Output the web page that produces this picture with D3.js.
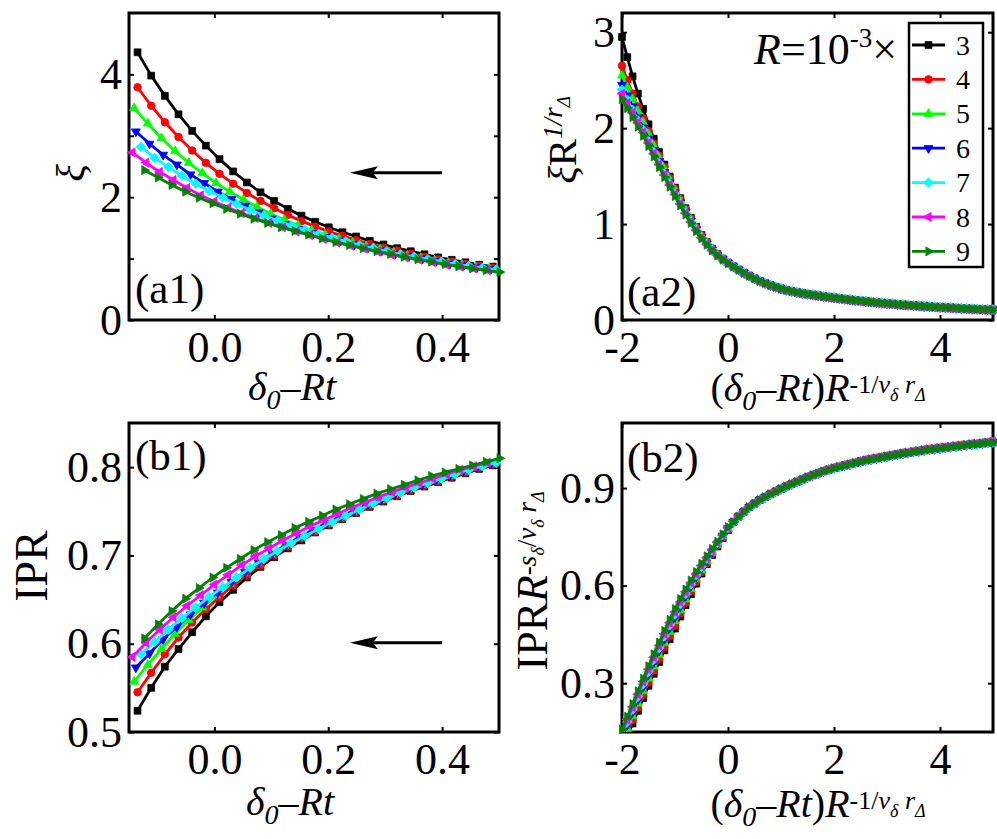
<!DOCTYPE html>
<html><head><meta charset="utf-8">
<script src="https://cdn.jsdelivr.net/npm/d3@7"></script>
<style>
body{margin:0;background:#fff}
svg{display:block}
text{font-family:"Liberation Serif","Times New Roman",Times,serif;fill:#000;white-space:pre}
</style>
</head><body>
<svg id="chart" width="997" height="839"></svg>
<script>
// ---------------- DATA ----------------
const seriesLabels = ["3","4","5","6","7","8","9"];
const seriesColors = ["#000000","#ff0000","#00ff00","#0000ff","#00ffff","#ff00ff","#008000"];
const seriesMarkers = ["square","circle","triUp","triDown","diamond","triLeft","triRight"];

// (a1)/(b1): x = delta0 - Rt for each R
const x1_3 = [-0.135,-0.111,-0.087,-0.063,-0.039,-0.015,0.009,0.033,0.057,0.081,0.105,0.129,0.153,0.177,0.201,0.225,0.249,0.273,0.297,0.321,0.345,0.369,0.393,0.417,0.441,0.465,0.489];
const x1_4 = [-0.135,-0.111,-0.087,-0.063,-0.039,-0.015,0.009,0.033,0.057,0.081,0.105,0.129,0.153,0.177,0.201,0.225,0.249,0.273,0.297,0.321,0.345,0.369,0.393,0.417,0.441,0.465,0.489];
const x1_5 = [-0.141,-0.117,-0.093,-0.069,-0.045,-0.021,0.003,0.027,0.051,0.075,0.099,0.123,0.147,0.171,0.195,0.219,0.243,0.267,0.291,0.315,0.339,0.363,0.387,0.411,0.435,0.459,0.483];
const x1_6 = [-0.138,-0.114,-0.090,-0.066,-0.042,-0.018,0.006,0.030,0.054,0.078,0.102,0.126,0.150,0.174,0.198,0.222,0.246,0.270,0.294,0.318,0.342,0.366,0.390,0.414,0.438,0.462,0.486];
const x1_7 = [-0.129,-0.105,-0.081,-0.057,-0.033,-0.009,0.015,0.039,0.063,0.087,0.111,0.135,0.159,0.183,0.207,0.231,0.255,0.279,0.303,0.327,0.351,0.375,0.399,0.423,0.447,0.471,0.495];
const x1_8 = [-0.144,-0.120,-0.096,-0.072,-0.048,-0.024,0.000,0.024,0.048,0.072,0.096,0.120,0.144,0.168,0.192,0.216,0.240,0.264,0.288,0.312,0.336,0.360,0.384,0.408,0.432,0.456,0.480];
const x1_9 = [-0.123,-0.099,-0.075,-0.051,-0.027,-0.003,0.021,0.045,0.069,0.093,0.117,0.141,0.165,0.189,0.213,0.237,0.261,0.285,0.309,0.333,0.357,0.381,0.405,0.429,0.453,0.477,0.501];

// (a1) xi
const xi_3 = [4.36,3.98,3.65,3.35,3.08,2.84,2.62,2.42,2.24,2.08,1.94,1.81,1.70,1.60,1.51,1.43,1.36,1.29,1.23,1.17,1.12,1.07,1.02,0.98,0.94,0.90,0.87];
const xi_4 = [3.79,3.49,3.22,2.98,2.76,2.56,2.38,2.22,2.07,1.94,1.82,1.71,1.61,1.52,1.44,1.37,1.30,1.24,1.18,1.13,1.08,1.03,0.99,0.95,0.91,0.88,0.85];
const xi_5 = [3.45,3.20,2.96,2.75,2.56,2.39,2.23,2.09,1.96,1.84,1.73,1.63,1.54,1.46,1.39,1.32,1.26,1.20,1.15,1.10,1.05,1.01,0.97,0.93,0.90,0.87,0.84];
const xi_6 = [3.07,2.87,2.69,2.53,2.37,2.23,2.09,1.97,1.86,1.75,1.65,1.56,1.48,1.41,1.35,1.29,1.23,1.18,1.13,1.08,1.04,1.00,0.96,0.92,0.89,0.86,0.83];
const xi_7 = [2.82,2.64,2.49,2.35,2.22,2.10,1.99,1.89,1.79,1.70,1.62,1.54,1.47,1.40,1.34,1.28,1.22,1.17,1.12,1.07,1.03,0.99,0.95,0.91,0.88,0.85,0.82];
const xi_8 = [2.73,2.56,2.41,2.28,2.15,2.03,1.93,1.83,1.74,1.66,1.58,1.51,1.44,1.38,1.32,1.26,1.21,1.16,1.11,1.06,1.02,0.98,0.94,0.90,0.87,0.84,0.81];
const xi_9 = [2.44,2.32,2.20,2.09,1.99,1.90,1.81,1.73,1.65,1.58,1.51,1.45,1.39,1.33,1.27,1.22,1.17,1.12,1.075,1.03,0.99,0.95,0.91,0.875,0.84,0.81,0.78];

// (b1) IPR
const ipr_3 = [0.524,0.550,0.574,0.594,0.613,0.631,0.647,0.661,0.675,0.687,0.698,0.708,0.717,0.726,0.734,0.741,0.748,0.755,0.761,0.767,0.773,0.778,0.783,0.788,0.793,0.798,0.802];
const ipr_4 = [0.545,0.567,0.588,0.607,0.624,0.639,0.653,0.666,0.678,0.689,0.700,0.710,0.719,0.727,0.735,0.742,0.749,0.756,0.762,0.768,0.774,0.779,0.784,0.789,0.794,0.799,0.803];
const ipr_5 = [0.557,0.576,0.594,0.611,0.627,0.641,0.655,0.668,0.680,0.691,0.701,0.711,0.720,0.728,0.736,0.743,0.750,0.757,0.763,0.769,0.775,0.780,0.785,0.790,0.795,0.800,0.804];
const ipr_6 = [0.573,0.589,0.605,0.619,0.633,0.646,0.658,0.670,0.681,0.692,0.702,0.712,0.721,0.729,0.737,0.744,0.751,0.758,0.764,0.770,0.776,0.781,0.786,0.791,0.796,0.800,0.804];
const ipr_7 = [0.588,0.602,0.616,0.629,0.641,0.653,0.664,0.675,0.686,0.696,0.705,0.714,0.722,0.730,0.738,0.745,0.752,0.759,0.765,0.771,0.777,0.782,0.787,0.792,0.797,0.801,0.805];
const ipr_8 = [0.585,0.601,0.616,0.630,0.643,0.655,0.667,0.678,0.689,0.699,0.708,0.717,0.725,0.733,0.740,0.747,0.754,0.760,0.766,0.772,0.777,0.782,0.787,0.792,0.797,0.801,0.805];
const ipr_9 = [0.606,0.622,0.637,0.651,0.663,0.675,0.686,0.696,0.706,0.715,0.723,0.731,0.738,0.745,0.752,0.758,0.764,0.770,0.775,0.780,0.785,0.790,0.794,0.798,0.802,0.806,0.810];

// (a2)/(b2): scaled x, shared by all R
const x2 = [-2.0,-1.9,-1.8,-1.7,-1.6,-1.5,-1.4,-1.3,-1.2,-1.1,-1.0,-0.9,-0.8,-0.7,-0.6,-0.5,-0.4,-0.3,-0.2,-0.1,0.0,0.1,0.2,0.3,0.4,0.5,0.6,0.7,0.8,0.9,1.0,1.1,1.2,1.3,1.4,1.5,1.6,1.7,1.8,1.9,2.0,2.1,2.2,2.3,2.4,2.5,2.6,2.7,2.8,2.9,3.0,3.1,3.2,3.3,3.4,3.5,3.6,3.7,3.8,3.9,4.0,4.1,4.2,4.3,4.4,4.5,4.6,4.7,4.8,4.9,5.0];

// (a2) scaled xi: collapsed tail values (x = 0.1 ... 5.0)
const xiTail = [0.558,0.523,0.49,0.46,0.432,0.406,0.383,0.362,0.343,0.326,0.312,0.30,0.289,0.279,0.27,0.262,0.254,0.246,0.239,0.232,0.225,0.218,0.211,0.205,0.199,0.193,0.188,0.182,0.177,0.172,0.168,0.163,0.159,0.155,0.151,0.147,0.143,0.14,0.136,0.133,0.13,0.127,0.124,0.121,0.118,0.115,0.113,0.11,0.108,0.105];
const xiTailHi = [0.561,0.526,0.493,0.463,0.435,0.409,0.386,0.365,0.346,0.329,0.315,0.303,0.292,0.282,0.273,0.265,0.257,0.249,0.242,0.235,0.228,0.221,0.214,0.208,0.202,0.196,0.191,0.185,0.18,0.175,0.171,0.166,0.162,0.158,0.154,0.15,0.146,0.143,0.139,0.136,0.133,0.13,0.127,0.124,0.121,0.118,0.116,0.113,0.111,0.108];
const xiTailLo = [0.554,0.519,0.486,0.456,0.428,0.402,0.379,0.358,0.339,0.322,0.308,0.296,0.285,0.275,0.266,0.258,0.25,0.242,0.235,0.228,0.221,0.214,0.207,0.201,0.195,0.189,0.184,0.178,0.173,0.168,0.164,0.159,0.155,0.151,0.147,0.143,0.139,0.136,0.132,0.129,0.126,0.123,0.12,0.117,0.114,0.111,0.109,0.106,0.104,0.101];
const xiS_3 = [2.95,2.74,2.54,2.36,2.20,2.04,1.89,1.75,1.62,1.495,1.38,1.27,1.165,1.065,0.97,0.885,0.812,0.745,0.688,0.64,0.598, ...xiTailHi];
const xiS_4 = [2.65,2.50,2.36,2.225,2.10,1.97,1.84,1.715,1.595,1.48,1.37,1.26,1.155,1.058,0.965,0.882,0.81,0.743,0.686,0.639,0.597, ...xiTail];
const xiS_5 = [2.55,2.425,2.30,2.175,2.06,1.937,1.814,1.691,1.573,1.46,1.353,1.246,1.144,1.048,0.957,0.876,0.805,0.739,0.683,0.637,0.596, ...xiTail];
const xiS_6 = [2.45,2.34,2.225,2.11,2.005,1.89,1.772,1.655,1.542,1.434,1.33,1.227,1.128,1.034,0.945,0.866,0.797,0.733,0.678,0.634,0.595, ...xiTail];
const xiS_7 = [2.40,2.295,2.19,2.08,1.98,1.865,1.75,1.635,1.525,1.419,1.318,1.216,1.119,1.027,0.939,0.861,0.793,0.73,0.676,0.632,0.593, ...xiTailHi];
const xiS_8 = [2.36,2.26,2.16,2.055,1.955,1.845,1.732,1.62,1.512,1.408,1.309,1.209,1.113,1.022,0.935,0.858,0.791,0.728,0.675,0.631,0.592, ...xiTailLo];
const xiS_9 = [2.30,2.21,2.115,2.015,1.92,1.813,1.705,1.595,1.49,1.389,1.292,1.194,1.10,1.011,0.926,0.851,0.785,0.724,0.672,0.629,0.591, ...xiTail];

// (b2) scaled IPR
const iprTail = [0.795,0.812,0.827,0.841,0.852,0.863,0.872,0.881,0.889,0.897,0.905,0.912,0.919,0.926,0.933,0.939,0.945,0.951,0.956,0.961,0.965,0.969,0.973,0.977,0.981,0.985,0.988,0.991,0.994,0.997,1.0,1.003,1.006,1.008,1.011,1.013,1.016,1.018,1.02,1.022,1.024,1.026,1.028,1.03,1.032,1.034,1.035,1.037,1.039,1.04];
const iprTailHi = [0.798,0.815,0.83,0.844,0.855,0.866,0.875,0.884,0.892,0.9,0.908,0.915,0.922,0.929,0.936,0.942,0.948,0.954,0.959,0.964,0.968,0.972,0.976,0.98,0.984,0.988,0.991,0.994,0.997,1.0,1.003,1.006,1.009,1.011,1.014,1.016,1.019,1.021,1.023,1.025,1.027,1.029,1.031,1.033,1.035,1.037,1.038,1.04,1.042,1.043];
const iprS_3 = [0.098,0.137,0.176,0.215,0.254,0.292,0.329,0.365,0.401,0.435,0.468,0.505,0.54,0.574,0.606,0.637,0.666,0.694,0.72,0.746,0.771, ...iprTail];
const iprS_4 = [0.108,0.147,0.186,0.225,0.264,0.302,0.339,0.375,0.411,0.445,0.478,0.514,0.548,0.581,0.612,0.642,0.67,0.697,0.723,0.748,0.772, ...iprTail];
const iprS_5 = [0.121,0.16,0.199,0.238,0.277,0.315,0.352,0.388,0.424,0.458,0.491,0.525,0.558,0.59,0.62,0.648,0.675,0.701,0.726,0.751,0.774, ...iprTail];
const iprS_6 = [0.133,0.172,0.211,0.25,0.289,0.327,0.364,0.40,0.436,0.47,0.503,0.536,0.568,0.598,0.627,0.654,0.68,0.705,0.729,0.753,0.776, ...iprTail];
const iprS_7 = [0.141,0.18,0.219,0.258,0.297,0.335,0.372,0.408,0.444,0.478,0.511,0.543,0.574,0.604,0.632,0.658,0.683,0.708,0.731,0.755,0.777, ...iprTail];
const iprS_8 = [0.149,0.188,0.227,0.266,0.305,0.343,0.38,0.416,0.452,0.486,0.519,0.55,0.581,0.609,0.637,0.662,0.686,0.71,0.733,0.756,0.778, ...iprTailHi];
const iprS_9 = [0.158,0.197,0.236,0.275,0.314,0.352,0.389,0.425,0.461,0.495,0.528,0.559,0.588,0.616,0.642,0.667,0.69,0.713,0.735,0.758,0.78, ...iprTail];

// ticks
const a1XTicks = [0.0,0.2,0.4], a1XTickLabels = ["0.0","0.2","0.4"];
const a1YTicks = [0,1,2,3,4],   a1YTickLabels = ["0","","2","","4"];
const b1YTicks = [0.5,0.6,0.7,0.8], b1YTickLabels = ["0.5","0.6","0.7","0.8"];
const a2XTicks = [-2,0,2,4], a2XTickLabels = ["-2","0","2","4"];
const a2YTicks = [0,1,2,3],  a2YTickLabels = ["0","1","2","3"];
const b2YTicks = [0.3,0.6,0.9], b2YTickLabels = ["0.3","0.6","0.9"];

// arrows (data coords)
const arrowA1 = {x1:0.40, x2:0.238, y:2.40};
const arrowB1 = {x1:0.40, x2:0.238, y:0.601};

// ---------------- DRAW ----------------
const svg = d3.select("#chart");
const FONT_TICK = 44;

const markerPaths = {
  square:  "M-3.4,-3.4H3.4V3.4H-3.4Z",
  circle:  "M3.8,0A3.8,3.8 0 1,1 -3.8,0A3.8,3.8 0 1,1 3.8,0Z",
  triUp:   "M0,-5.2L4.5,2.6L-4.5,2.6Z",
  triDown: "M0,5.2L4.5,-2.6L-4.5,-2.6Z",
  triLeft: "M-5.2,0L2.6,-4.5L2.6,4.5Z",
  triRight:"M5.2,0L-2.6,-4.5L-2.6,4.5Z",
  diamond: "M0,-4.8L4.8,0L0,4.8L-4.8,0Z"
};

function rich(textSel, parts){
  let prev = 0;
  parts.forEach(([t,size,off,it])=>{
    textSel.append("tspan").attr("font-size",size)
      .attr("font-style", it ? "italic":"normal")
      .attr("dy", off - prev).text(t);
    prev = off;
  });
}

function makePanel(cfg){
  const x = d3.scaleLinear().domain(cfg.xd).range([cfg.left,cfg.right]);
  const y = d3.scaleLinear().domain(cfg.yd).range([cfg.bottom,cfg.top]);
  const g = svg.append("g");
  const clipId = "clip-"+cfg.id;
  svg.append("defs").append("clipPath").attr("id",clipId)
    .append("rect").attr("x",cfg.left).attr("y",cfg.top)
    .attr("width",cfg.right-cfg.left).attr("height",cfg.bottom-cfg.top);

  const fmt = (ticks, labels) => d => labels[ticks.indexOf(d)];
  const styleAxis = a => {
    a.attr("font-size",FONT_TICK).attr("font-family",'"Liberation Serif","Times New Roman",serif');
    a.select(".domain").remove();
    a.selectAll(".tick line").attr("stroke","#000").attr("stroke-width",2);
    a.selectAll(".tick text").attr("fill","#000");
  };
  g.append("g").attr("transform",`translate(0,${cfg.bottom})`)
    .call(d3.axisBottom(x).tickValues(cfg.xticks).tickFormat(fmt(cfg.xticks,cfg.xlabels)).tickSizeInner(-5).tickSizeOuter(0).tickPadding(11))
    .call(styleAxis);
  g.append("g").attr("transform",`translate(0,${cfg.top})`)
    .call(d3.axisTop(x).tickValues(cfg.xticks).tickFormat("").tickSizeInner(-5).tickSizeOuter(0))
    .call(styleAxis);
  g.append("g").attr("transform",`translate(${cfg.left},0)`)
    .call(d3.axisLeft(y).tickValues(cfg.yticks).tickFormat(fmt(cfg.yticks,cfg.ylabels)).tickSizeInner(-5).tickSizeOuter(0).tickPadding(7))
    .call(styleAxis);
  g.append("g").attr("transform",`translate(${cfg.right},0)`)
    .call(d3.axisRight(y).tickValues(cfg.yticks).tickFormat("").tickSizeInner(-5).tickSizeOuter(0))
    .call(styleAxis);

  g.append("rect").attr("x",cfg.left).attr("y",cfg.top)
    .attr("width",cfg.right-cfg.left).attr("height",cfg.bottom-cfg.top)
    .attr("fill","none").attr("stroke","#000").attr("stroke-width",3);

  const line = d3.line().x(d=>x(d[0])).y(d=>y(d[1]));
  cfg.series.forEach((s,i)=>{
    const pts = d3.zip(s.x, s.y);
    const sg = g.append("g");
    sg.append("path").attr("d",line(pts)).attr("fill","none")
      .attr("stroke",seriesColors[i]).attr("stroke-width",2.8)
      .attr("clip-path",`url(#${clipId})`);
    const inside = pts.filter(p => p[0]>=cfg.xd[0]-1e-9 && p[0]<=cfg.xd[1]+0.0015 && p[1]>=cfg.yd[0] && p[1]<=cfg.yd[1]);
    sg.selectAll("path.m").data(inside).join("path").attr("class","m")
      .attr("d",markerPaths[seriesMarkers[i]])
      .attr("transform",p=>`translate(${x(p[0])},${y(p[1])})`)
      .attr("fill",seriesColors[i]).attr("stroke",seriesColors[i]).attr("stroke-width",0.8);
  });

  g.append("text").attr("x",cfg.tag[1]).attr("y",cfg.tag[2]).attr("font-size",43).text(cfg.tag[0]);
  return {x,y,g};
}

const xiSeries1 = [[x1_3,xi_3],[x1_4,xi_4],[x1_5,xi_5],[x1_6,xi_6],[x1_7,xi_7],[x1_8,xi_8],[x1_9,xi_9]].map(([a,b])=>({x:a,y:b}));
const iprSeries1 = [[x1_3,ipr_3],[x1_4,ipr_4],[x1_5,ipr_5],[x1_6,ipr_6],[x1_7,ipr_7],[x1_8,ipr_8],[x1_9,ipr_9]].map(([a,b])=>({x:a,y:b}));
const xiSeries2 = [xiS_3,xiS_4,xiS_5,xiS_6,xiS_7,xiS_8,xiS_9].map(b=>({x:x2,y:b}));
const iprSeries2 = [iprS_3,iprS_4,iprS_5,iprS_6,iprS_7,iprS_8,iprS_9].map(b=>({x:x2,y:b}));

const pA1 = makePanel({id:"a1",left:129,right:499,top:13,bottom:320,xd:[-0.15,0.5],yd:[0,5],
  xticks:a1XTicks,xlabels:a1XTickLabels,yticks:a1YTicks,ylabels:a1YTickLabels,series:xiSeries1,tag:["(a1)",135,303]});
const pA2 = makePanel({id:"a2",left:622,right:993,top:13,bottom:320,xd:[-2,5],yd:[0,3.2],
  xticks:a2XTicks,xlabels:a2XTickLabels,yticks:a2YTicks,ylabels:a2YTickLabels,series:xiSeries2,tag:["(a2)",627,306]});
const pB1 = makePanel({id:"b1",left:129,right:499,top:423,bottom:732,xd:[-0.15,0.5],yd:[0.5,0.85],
  xticks:a1XTicks,xlabels:a1XTickLabels,yticks:b1YTicks,ylabels:b1YTickLabels,series:iprSeries1,tag:["(b1)",135,470]});
const pB2 = makePanel({id:"b2",left:622,right:993,top:423,bottom:732,xd:[-2,5],yd:[0.15,1.1],
  xticks:a2XTicks,xlabels:a2XTickLabels,yticks:b2YTicks,ylabels:b2YTickLabels,series:iprSeries2,tag:["(b2)",627,472]});

function drawArrow(p, a){
  const xa = p.x(a.x1), xb = p.x(a.x2), yy = p.y(a.y);
  p.g.append("line").attr("x1",xa).attr("x2",xb+20).attr("y1",yy).attr("y2",yy)
    .attr("stroke","#000").attr("stroke-width",3);
  p.g.append("path").attr("d",`M${xb},${yy}L${xb+28},${yy-6.5}L${xb+23},${yy}L${xb+28},${yy+6.5}Z`).attr("fill","#000");
}
drawArrow(pA1, arrowA1);
drawArrow(pB1, arrowB1);

// axis labels
const xl1 = [["δ",40,0,true],["0",28,9,true],["–",40,0,false],["Rt",40,0,true]];
rich(svg.append("text").attr("x",292).attr("y",400).attr("text-anchor","middle"), xl1);
rich(svg.append("text").attr("x",290).attr("y",815).attr("text-anchor","middle"), xl1);
const xl2 = [["(",40,0,false],["δ",40,0,true],["0",28,9,true],["–",40,0,false],["Rt",40,0,true],[")",40,0,false],["R",40,0,true],
  ["-1/",26,-8,false],["ν",26,-8,true],["δ",18,0,true],[" r",26,-8,true],["Δ",18,0,true]];
rich(svg.append("text").attr("x",818).attr("y",401).attr("text-anchor","middle"), xl2);
rich(svg.append("text").attr("x",818).attr("y",817).attr("text-anchor","middle"), xl2);

rich(svg.append("text").attr("transform","translate(84,173) rotate(-90)").attr("text-anchor","middle"), [["ξ",41,0,true]]);
rich(svg.append("text").attr("transform","translate(47,566) rotate(-90)").attr("text-anchor","middle"), [["IPR",46,0,false]]);
rich(svg.append("text").attr("transform","translate(576,140) rotate(-90)").attr("text-anchor","middle"),
  [["ξ",41,0,true],["R",41,0,false],["1/r",27,-14,true],["Δ",19,-6,true]]);
rich(svg.append("text").attr("transform","translate(547,581) rotate(-90)").attr("text-anchor","middle"),
  [["IPR",44,0,false],["R",44,0,true],["-",27,-11,false],["s",27,-11,true],["δ",18,-3,true],["/",27,-11,false],["ν",27,-11,true],["δ",18,-3,true],[" r",27,-11,true],["Δ",18,-3,true]]);

// legend
const lg = svg.append("g");
lg.append("rect").attr("x",909).attr("y",23).attr("width",74).attr("height",244)
  .attr("fill","#fff").attr("stroke","#000").attr("stroke-width",2.5);
seriesLabels.forEach((lab,i)=>{
  const yy = 45 + i*34.4;
  lg.append("line").attr("x1",912).attr("x2",945).attr("y1",yy).attr("y2",yy)
    .attr("stroke",seriesColors[i]).attr("stroke-width",2.8);
  lg.append("path").attr("d",markerPaths[seriesMarkers[i]]).attr("transform",`translate(928.5,${yy})`)
    .attr("fill",seriesColors[i]).attr("stroke",seriesColors[i]).attr("stroke-width",0.8);
  lg.append("text").attr("x",956).attr("y",yy).attr("dy","0.34em").attr("font-size",28).text(lab);
});
rich(svg.append("text").attr("x",754).attr("y",64),
  [["R",44,0,true],["=10",44,0,false],["-3",27,-17,false],["×",44,0,false]]);
</script>
</body></html>
